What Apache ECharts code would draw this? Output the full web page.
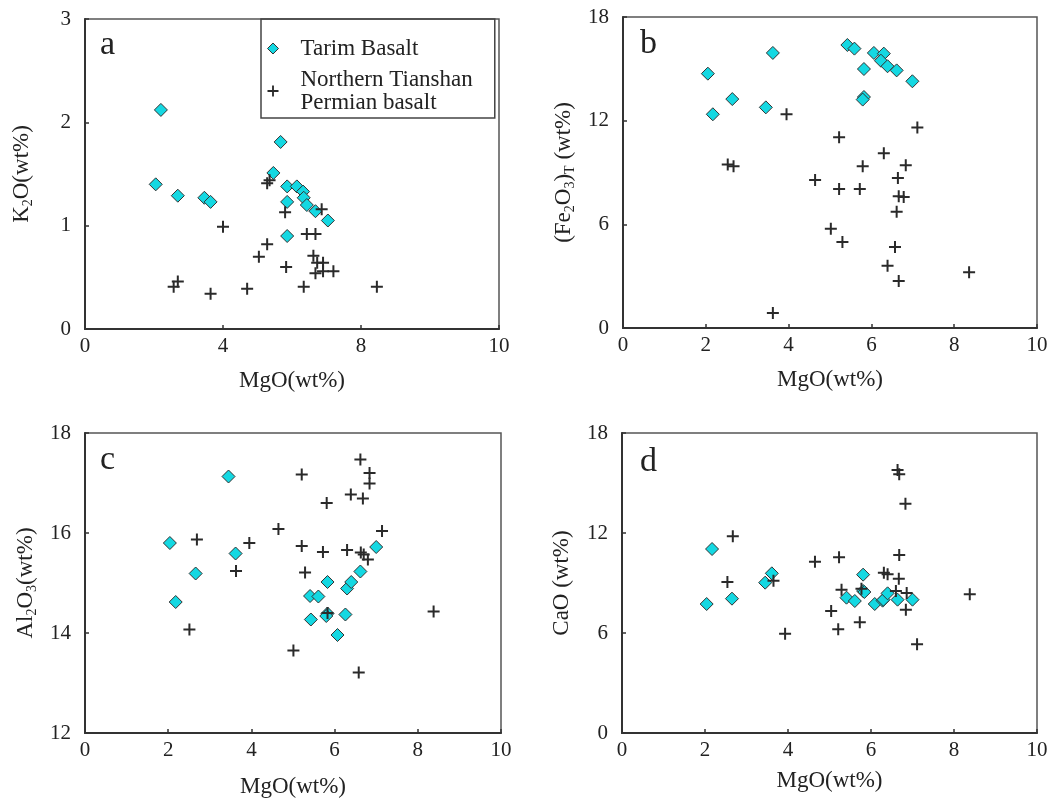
<!DOCTYPE html>
<html>
<head>
<meta charset="utf-8">
<script src="https://cdn.jsdelivr.net/npm/echarts@6/dist/echarts.min.js"></script>
<style>
  html, body { margin: 0; padding: 0; background: #fff; }
  #chart { width: 1061px; height: 799px; }
</style>
</head>
<body>
<div id="chart"></div>
<script>
  // [MgO, oxide] pairs
  const tarimK2O = [
    [2.05, 1.40], [2.20, 2.12], [2.69, 1.29], [3.46, 1.27], [3.64, 1.23],
    [5.46, 1.51], [5.67, 1.81], [5.86, 1.38], [5.86, 1.23], [5.86, 0.90],
    [6.14, 1.38], [6.32, 1.33], [6.34, 1.27], [6.43, 1.20], [6.68, 1.14], [7.04, 1.05]
  ]
  const tianshanK2O = [
    [2.57, 0.41], [2.69, 0.46], [3.64, 0.34], [4.00, 0.99], [4.70, 0.39],
    [5.04, 0.70], [5.28, 0.82], [5.28, 1.41], [5.35, 1.44], [5.80, 1.13],
    [5.83, 0.60], [6.34, 0.41], [6.43, 0.92], [6.68, 0.92], [6.62, 0.71],
    [6.68, 0.54], [6.73, 0.64], [6.90, 0.64], [6.90, 0.56], [7.20, 0.56],
    [6.86, 1.16], [8.46, 0.41]
  ]
  const tarimFe2O3 = [
    [2.05, 14.72], [2.17, 12.37], [2.64, 13.25], [3.45, 12.77], [3.62, 15.92],
    [5.42, 16.38], [5.59, 16.17], [5.82, 14.99], [5.82, 13.37], [5.79, 13.22],
    [6.06, 15.92], [6.30, 15.88], [6.23, 15.47], [6.39, 15.15], [6.61, 14.91], [6.99, 14.28]
  ]
  const tianshanFe2O3 = [
    [2.53, 9.47], [2.67, 9.36], [3.62, 0.87], [3.95, 12.37], [4.64, 8.57],
    [5.02, 5.75], [5.22, 11.04], [5.22, 8.05], [5.30, 4.98], [5.72, 8.05],
    [5.79, 9.36], [6.30, 10.11], [6.39, 3.61], [6.57, 4.69], [6.61, 6.73],
    [6.64, 8.68], [6.66, 2.72], [6.66, 7.62], [6.78, 7.58], [6.83, 9.42],
    [7.11, 11.61], [8.36, 3.22]
  ]
  const tarimAl2O3 = [
    [2.04, 15.80], [2.18, 14.62], [2.66, 15.19], [3.45, 17.13], [3.62, 15.59],
    [5.41, 14.74], [5.43, 14.27], [5.61, 14.73], [5.83, 15.02], [5.83, 14.39],
    [5.80, 14.34], [6.07, 13.96], [6.26, 14.37], [6.30, 14.89], [6.40, 15.02],
    [6.62, 15.23], [7.00, 15.72]
  ]
  const tianshanAl2O3 = [
    [2.51, 14.07], [2.69, 15.87], [3.63, 15.24], [3.95, 15.80], [4.65, 16.08],
    [5.01, 13.65], [5.21, 17.17], [5.21, 15.74], [5.29, 15.21], [5.72, 15.62],
    [5.81, 16.60], [5.83, 14.40], [6.30, 15.66], [6.39, 16.77], [6.58, 13.21],
    [6.62, 17.47], [6.68, 16.69], [6.63, 15.61], [6.70, 15.57], [6.80, 15.47],
    [6.84, 17.20], [6.84, 16.99], [7.14, 16.04], [8.38, 14.43]
  ]
  const tarimCaO = [
    [2.04, 7.74], [2.17, 11.04], [2.65, 8.06], [3.45, 9.02], [3.61, 9.58],
    [5.41, 8.12], [5.61, 7.92], [5.81, 9.50], [5.81, 8.52], [5.84, 8.46],
    [6.09, 7.74], [6.28, 7.94], [6.30, 8.00], [6.40, 8.38], [6.64, 8.00], [7.00, 8.00]
  ]
  const tianshanCaO = [
    [2.54, 9.06], [2.67, 11.80], [3.65, 9.14], [3.93, 5.96], [4.65, 10.28],
    [5.04, 7.32], [5.23, 10.54], [5.21, 6.22], [5.29, 8.60], [5.73, 6.64],
    [5.77, 8.66], [6.31, 9.62], [6.40, 9.52], [6.60, 8.52], [6.64, 15.78],
    [6.68, 15.52], [6.68, 10.68], [6.67, 9.26], [6.83, 13.76], [6.86, 8.40],
    [6.84, 7.40], [7.11, 5.32], [8.38, 8.32]
  ]

  // panel a has an odd x axis: ticks every 4, last one printed as "10"
  const xTickLabelsA = ['0', '4', '8', '10']
  const panelLetters = ['a', 'b', 'c', 'd']

  const font = 'Liberation Serif'
  const ink = '#222'
  const cyan = '#14d8e2'
  const plusPath = 'path://M5,0H7V5H12V7H7V12H5V7H0V5H5Z'

  const grids = [
    { left: 85, top: 19, width: 414, height: 310 },
    { left: 623, top: 17, width: 414, height: 311 },
    { left: 85, top: 433, width: 416, height: 300 },
    { left: 622, top: 433, width: 415, height: 300 },
  ]

  function xAxis(idx, max, interval, nameGap, formatter) {
    return {
      type: 'value', gridIndex: idx, min: 0, max: max, interval: interval,
      name: 'MgO(wt%)', nameLocation: 'middle', nameGap: nameGap,
      nameTextStyle: { fontFamily: font, fontSize: 23, color: ink },
      axisLine: { show: true, onZero: false, lineStyle: { color: '#333', width: 2 } },
      axisTick: { show: true, inside: true, length: 4, lineStyle: { color: '#333', width: 1.5 } },
      axisLabel: { fontFamily: font, fontSize: 21, color: ink, margin: 7, formatter: formatter, showMaxLabel: true, showMinLabel: true },
      splitLine: { show: false },
    }
  }

  const sub = { fontFamily: font, fontSize: 14, color: ink, verticalAlign: 'bottom', lineHeight: 26 }
  const norm = { fontFamily: font, fontSize: 23, color: ink, lineHeight: 26 }

  function yAxis(idx, min, max, interval, name, nameGap) {
    return {
      type: 'value', gridIndex: idx, min: min, max: max, interval: interval,
      name: name, nameLocation: 'middle', nameGap: nameGap, nameRotate: 90,
      nameTextStyle: { fontFamily: font, fontSize: 23, color: ink, rich: { n: norm, s: sub } },
      axisLine: { show: true, onZero: false, lineStyle: { color: '#333', width: 2 } },
      axisTick: { show: true, inside: true, length: 4, lineStyle: { color: '#333', width: 1.5 } },
      axisLabel: { fontFamily: font, fontSize: 21, color: ink, margin: 14, showMaxLabel: true },
      splitLine: { show: false },
    }
  }

  function tarim(idx, data) {
    return {
      name: 'Tarim Basalt', type: 'scatter', xAxisIndex: idx, yAxisIndex: idx,
      symbol: 'diamond', symbolSize: 13, data: data,
      itemStyle: { color: cyan, borderColor: '#333', borderWidth: 1, opacity: 1 },
    }
  }

  function tianshan(idx, data) {
    return {
      name: 'Northern Tianshan Permian basalt', type: 'scatter', xAxisIndex: idx, yAxisIndex: idx,
      symbol: plusPath, symbolSize: 12, data: data,
      itemStyle: { color: '#2a2a2a', opacity: 1 },
    }
  }

  const letterPos = [[100, 28], [640, 27], [100, 443], [640, 445]]

  const option = {
    backgroundColor: '#fff',
    animation: false,
    title: panelLetters.map((t, i) => ({
      text: t, left: letterPos[i][0], top: letterPos[i][1], padding: 0,
      textStyle: { fontFamily: font, fontSize: 34, fontWeight: 'normal', color: ink },
    })),
    legend: {
      left: 261, top: 19, orient: 'vertical',
      padding: [18, 22, 4, 6], itemGap: 8,
      itemWidth: 11, itemHeight: 11,
      borderColor: '#444', borderWidth: 1.5,
      data: [
        { name: 'Tarim Basalt', itemStyle: { color: cyan, borderColor: '#333', borderWidth: 1 } },
        { name: 'Northern Tianshan Permian basalt', itemStyle: { color: '#2a2a2a' } },
      ],
      formatter: name => name === 'Northern Tianshan Permian basalt' ? 'Northern Tianshan\nPermian basalt' : name,
      textStyle: { fontFamily: font, fontSize: 23, color: ink, lineHeight: 23, padding: [0, 0, 0, 17] },
    },
    grid: grids.map(g => Object.assign({ show: true, borderColor: '#555', borderWidth: 1.5, backgroundColor: '#fff' }, g)),
    xAxis: [
      xAxis(0, 12, 4, 40, v => xTickLabelsA[Math.round(v / 4)]),
      xAxis(1, 10, 2, 40),
      xAxis(2, 10, 2, 42),
      xAxis(3, 10, 2, 36),
    ],
    yAxis: [
      yAxis(0, 0, 3, 1, '{n|K}{s|2}{n|O(wt%)}', 50),
      yAxis(1, 0, 18, 6, '{n|(Fe}{s|2}{n|O}{s|3}{n|)}{s|T}{n| (wt%)}', 46),
      yAxis(2, 12, 18, 2, '{n|Al}{s|2}{n|O}{s|3}{n|(wt%)}', 46),
      yAxis(3, 0, 18, 6, '{n|CaO (wt%)}', 47),
    ],
    series: [
      tarim(0, tarimK2O), tianshan(0, tianshanK2O),
      tarim(1, tarimFe2O3), tianshan(1, tianshanFe2O3),
      tarim(2, tarimAl2O3), tianshan(2, tianshanAl2O3),
      tarim(3, tarimCaO), tianshan(3, tianshanCaO),
    ],
  }

  const chart = echarts.init(document.getElementById('chart'))
  chart.setOption(option)
</script>
</body>
</html>
